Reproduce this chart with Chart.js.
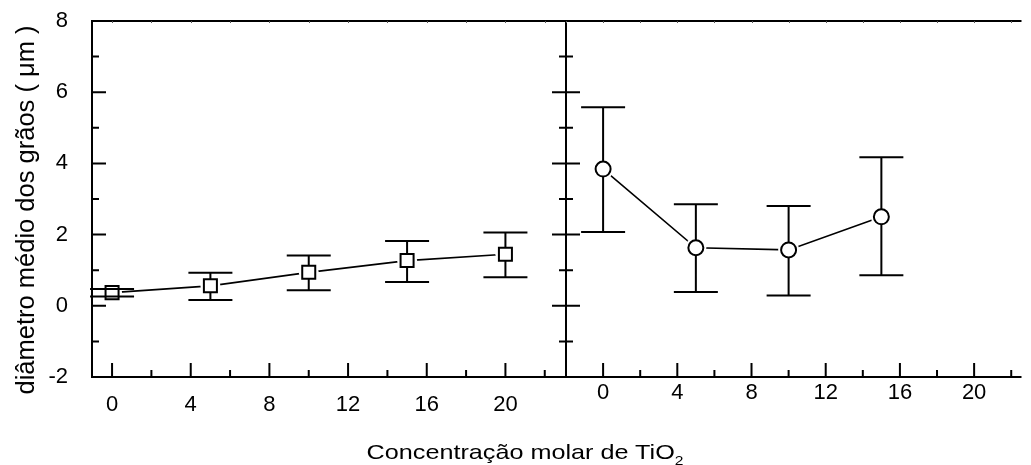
<!DOCTYPE html>
<html>
<head>
    <title>Diâmetro médio dos grãos vs. concentração de TiO2</title>
    <script src="https://cdn.jsdelivr.net/npm/chart.js"></script>
    <style>
        body {
            margin: 0;
            background: #ffffff;
            overflow: hidden;
        }

        #wrap {
            position: relative;
            width: 1031px;
            height: 465px;
            font-family: 'Liberation Sans', Arial, sans-serif;
            color: #000;
        }

        #left {
            position: absolute;
            left: 0;
            top: 0;
        }

        #right {
            position: absolute;
            left: 540px;
            top: 0;
        }

        #ytitle {
            position: absolute;
            left: -185px; /* centre at x = 25 */
            top: 196px;
            width: 420px;
            height: 28px;
            line-height: 28px;
            text-align: center;
            font-size: 25.5px;
            white-space: nowrap;
            transform: rotate(-90deg);
        }

        #xtitle {
            position: absolute;
            left: 0;
            top: 440px;
            width: 1050px;
            line-height: 24px;
            text-align: center;
            font-size: 21px;
            white-space: nowrap;
            transform: scaleX(1.2);
            transform-origin: 525px 0;
        }

        #xtitle sub {
            font-size: 13px;
            vertical-align: -6px;
            line-height: 0;
        }
    </style>
</head>
<body>
<div id="wrap">
    <canvas id="left" width="580" height="465"></canvas>
    <canvas id="right" width="491" height="465"></canvas>
    <div id="ytitle">diâmetro médio dos grãos ( μm )</div>
    <div id="xtitle">Concentração molar de TiO<sub>2</sub></div>
</div>

<script>
    // left panel (open squares)
    const concLeft = [0, 5, 10, 15, 20];
    const meanLeft = [0.37, 0.56, 0.94, 1.27, 1.45];
    const lowLeft = [0.26, 0.16, 0.44, 0.67, 0.80];
    const highLeft = [0.47, 0.93, 1.41, 1.82, 2.06];

    // right panel (open circles)
    const concRight = [0, 5, 10, 15];
    const meanRight = [3.84, 1.63, 1.57, 2.50];
    const lowRight = [2.07, 0.39, 0.29, 0.86];
    const highRight = [5.58, 2.85, 2.80, 4.17];

    // axis ticks
    const xMajor = [0, 4, 8, 12, 16, 20];
    const xMinor = [-2, 2, 6, 10, 14, 18, 22];
    const yMajor = [-2, 0, 2, 4, 6, 8];
    const yMinor = [-1, 1, 3, 5, 7];

    const FONT = "'Liberation Sans', Arial, sans-serif";

    // box + inward ticks, drawn from the chart's own scales
    function framePlugin(opts) {
        return {
            id: 'frame',
            afterDraw(chart) {
                const ctx = chart.ctx;
                const a = chart.chartArea;
                const x = chart.scales.x, y = chart.scales.y;
                const inX = v => v >= x.min && v <= x.max;

                ctx.save();
                ctx.strokeStyle = '#000';
                ctx.lineWidth = 2;
                ctx.lineCap = 'butt';

                ctx.beginPath();
                ctx.moveTo(a.right + 1, a.top);
                ctx.lineTo(a.left, a.top);
                ctx.lineTo(a.left, a.bottom);
                ctx.lineTo(a.right + 1, a.bottom);
                if (opts.rightBorder) {
                    ctx.moveTo(a.right, a.top);
                    ctx.lineTo(a.right, a.bottom);
                }
                ctx.stroke();

                ctx.beginPath();
                xMajor.filter(inX).forEach(v => {
                    const px = x.getPixelForValue(v);
                    ctx.moveTo(px, a.bottom);
                    ctx.lineTo(px, a.bottom - 14);
                });
                xMinor.filter(inX).forEach(v => {
                    const px = x.getPixelForValue(v);
                    ctx.moveTo(px, a.bottom);
                    ctx.lineTo(px, a.bottom - 7);
                });
                yMajor.forEach(v => {
                    const py = y.getPixelForValue(v);
                    ctx.moveTo(a.left, py);
                    ctx.lineTo(a.left + 14, py);
                    if (opts.rightTicks) {
                        ctx.moveTo(a.right, py);
                        ctx.lineTo(a.right - 14, py);
                    }
                });
                yMinor.forEach(v => {
                    const py = y.getPixelForValue(v);
                    ctx.moveTo(a.left, py);
                    ctx.lineTo(a.left + 7, py);
                    if (opts.rightTicks) {
                        ctx.moveTo(a.right, py);
                        ctx.lineTo(a.right - 7, py);
                    }
                });
                ctx.stroke();

                // tiny marks on the top edge
                ctx.lineWidth = 1;
                ctx.strokeStyle = '#555';
                ctx.beginPath();
                xMajor.concat(xMinor).filter(inX).forEach(v => {
                    const px = Math.round(x.getPixelForValue(v)) + 0.5;
                    ctx.moveTo(px, a.top);
                    ctx.lineTo(px, a.top + 2);
                });
                ctx.stroke();
                ctx.restore();
            }
        };
    }

    // error bars; stem hidden inside the open marker, caps on top
    function errorBarPlugin(xs, means, lows, highs, half) {
        return {
            id: 'errorBars',
            afterDatasetsDraw(chart) {
                const ctx = chart.ctx;
                const x = chart.scales.x, y = chart.scales.y;
                ctx.save();
                ctx.strokeStyle = '#000';
                ctx.lineWidth = 2;
                ctx.beginPath();
                xs.forEach((v, i) => {
                    const px = x.getPixelForValue(v);
                    const pm = y.getPixelForValue(means[i]);
                    const ph = y.getPixelForValue(highs[i]);
                    const pl = y.getPixelForValue(lows[i]);
                    if (ph < pm - half) {
                        ctx.moveTo(px, ph);
                        ctx.lineTo(px, pm - half);
                    }
                    if (pl > pm + half) {
                        ctx.moveTo(px, pm + half);
                        ctx.lineTo(px, pl);
                    }
                    ctx.moveTo(px - 22, ph);
                    ctx.lineTo(px + 22, ph);
                    ctx.moveTo(px - 22, pl);
                    ctx.lineTo(px + 22, pl);
                });
                ctx.stroke();
                ctx.restore();
            }
        };
    }

    function panelDatasets(xs, means, style, radius, halo) {
        const pts = xs.map((v, i) => ({x: v, y: means[i]}));
        return [
            { // markers (drawn last)
                data: pts,
                showLine: false,
                pointStyle: style,
                pointRadius: radius,
                pointBackgroundColor: '#fff',
                pointBorderColor: '#000',
                pointBorderWidth: 2
            },
            { // white halo so the line stops short of the marker
                data: pts,
                showLine: false,
                pointStyle: 'circle',
                pointRadius: halo,
                pointBackgroundColor: '#fff',
                pointBorderColor: '#fff',
                pointBorderWidth: 0
            },
            { // connecting line (drawn first)
                data: pts,
                showLine: true,
                borderColor: '#000',
                borderWidth: 1.6,
                pointRadius: 0,
                fill: false
            }
        ];
    }

    function makePanel(id, cfg) {
        return new Chart(document.getElementById(id), {
            type: 'line',
            data: {datasets: cfg.datasets},
            options: {
                responsive: false,
                animation: false,
                layout: {padding: {top: 21, right: cfg.padRight, left: 0, bottom: 0}},
                plugins: {
                    legend: {display: false},
                    tooltip: {enabled: false}
                },
                scales: {
                    x: {
                        type: 'linear',
                        min: cfg.xMin,
                        max: cfg.xMax,
                        grid: {display: false},
                        border: {display: false},
                        afterBuildTicks: s => { s.ticks = xMajor.map(v => ({value: v})); },
                        afterFit: s => {
                            s.height = 88;
                            s.paddingLeft = 0;
                            s.paddingRight = 0;
                        },
                        ticks: {
                            autoSkip: false,
                            maxRotation: 0,
                            padding: cfg.xLabelPad,
                            color: '#000',
                            font: {family: FONT, size: 22}
                        }
                    },
                    y: {
                        type: 'linear',
                        min: -2,
                        max: 8,
                        grid: {display: false},
                        border: {display: false},
                        afterBuildTicks: s => { s.ticks = yMajor.map(v => ({value: v})); },
                        afterFit: s => {
                            s.width = cfg.yWidth;
                            s.paddingTop = 0;
                            s.paddingBottom = 0;
                        },
                        ticks: {
                            display: cfg.yLabels,
                            padding: 16,
                            color: '#000',
                            font: {family: FONT, size: 22}
                        }
                    }
                }
            },
            plugins: cfg.plugins
        });
    }

    makePanel('left', {
        datasets: panelDatasets(concLeft, meanLeft, 'rect', 9.2, 10),
        xMin: -1.02, xMax: 23.08,
        padRight: 14,
        yWidth: 92,
        yLabels: true,
        xLabelPad: 7,
        plugins: [
            errorBarPlugin(concLeft, meanLeft, lowLeft, highLeft, 6.5),
            framePlugin({rightBorder: true, rightTicks: true})
        ]
    });

    makePanel('right', {
        datasets: panelDatasets(concRight, meanRight, 'circle', 7.5, 10.5),
        xMin: -2, xMax: 22.5,
        padRight: 0,
        yWidth: 26,
        yLabels: false,
        xLabelPad: -5,
        plugins: [
            errorBarPlugin(concRight, meanRight, lowRight, highRight, 7.5),
            framePlugin({rightBorder: false, rightTicks: false})
        ]
    });
</script>
</body>
</html>
